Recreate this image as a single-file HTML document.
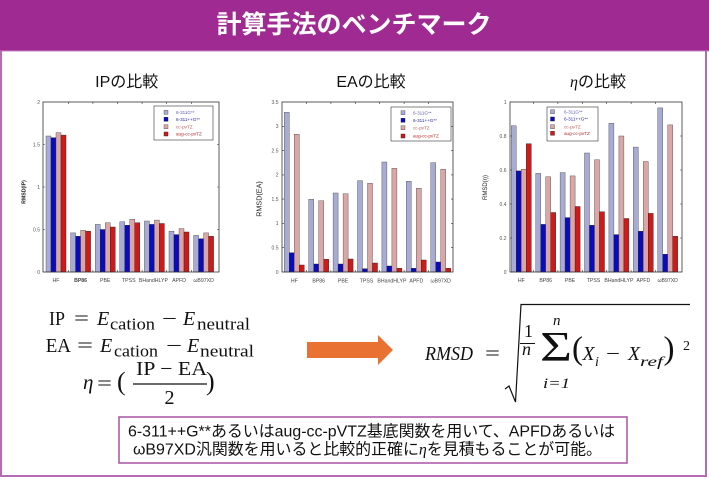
<!DOCTYPE html>
<html><head><meta charset="utf-8">
<style>
html,body{margin:0;padding:0;background:#fff;}
svg{display:block;}
.sans{font-family:"Liberation Sans","Noto Sans CJK JP",sans-serif;}
.jp{font-family:"Liberation Sans","Noto Sans CJK JP",sans-serif;}
.serif{font-family:"Liberation Serif","DejaVu Serif",serif;}
.a{fill:#A8ACD5;stroke:#444;stroke-width:0.4;}
.b{fill:#0B0BBE;stroke:#222;stroke-width:0.4;}
.c{fill:#DBA6A6;stroke:#444;stroke-width:0.4;}
.d{fill:#D01A1A;stroke:#222;stroke-width:0.4;}
.tk{font-family:"Liberation Sans",sans-serif;font-size:5px;fill:#555;}
.xl{font-family:"Liberation Sans",sans-serif;font-size:5.2px;fill:#444;text-anchor:middle;}
.lg{font-family:"Liberation Sans",sans-serif;font-size:4.6px;}
</style></head>
<body>
<svg width="709" height="479" viewBox="0 0 709 479" xmlns="http://www.w3.org/2000/svg">
<rect width="709" height="479" fill="#fff"/>
<!-- title bar -->
<rect x="0" y="0" width="709" height="51" fill="#9E2A92"/>
<line x1="0" y1="51" x2="709" y2="51" stroke="#C685C2" stroke-width="1"/>
<text class="jp" x="354" y="33" font-size="25" font-weight="bold" fill="#fff" text-anchor="middle">計算手法のベンチマーク</text>
<!-- outer frame -->
<path d="M1,51 V476 H706 V51" stroke="#B46CB2" stroke-width="2" fill="none"/>

<!-- chart titles -->
<text class="jp" x="126.7" y="87" font-size="16" text-anchor="middle" fill="#111">IPの比較</text>
<text class="jp" x="371" y="87" font-size="16" text-anchor="middle" fill="#111">EAの比較</text>
<text class="jp" x="598" y="87" font-size="16" text-anchor="middle" fill="#111"><tspan font-family="Liberation Serif,serif" font-style="italic">η</tspan>の比較</text>

<!-- ===== Chart 1 ===== -->
<g>
<rect x="46" y="136" width="5" height="136" class="a"/>
<rect x="51" y="137.7" width="5" height="134.3" class="b"/>
<rect x="56" y="132.6" width="5" height="139.4" class="c"/>
<rect x="61" y="135.1" width="5" height="136.9" class="d"/>
<rect x="70.6" y="232.9" width="5" height="39.1" class="a"/>
<rect x="75.6" y="236.3" width="5" height="35.7" class="b"/>
<rect x="80.6" y="230.3" width="5" height="41.7" class="c"/>
<rect x="85.6" y="231.2" width="5" height="40.8" class="d"/>
<rect x="95.2" y="224.4" width="5" height="47.6" class="a"/>
<rect x="100.2" y="229.5" width="5" height="42.5" class="b"/>
<rect x="105.2" y="222.7" width="5" height="49.3" class="c"/>
<rect x="110.2" y="227" width="5" height="45" class="d"/>
<rect x="119.8" y="221.8" width="5" height="50.2" class="a"/>
<rect x="124.8" y="225.2" width="5" height="46.8" class="b"/>
<rect x="129.8" y="219.3" width="5" height="52.7" class="c"/>
<rect x="134.8" y="222.7" width="5" height="49.3" class="d"/>
<rect x="144.4" y="221" width="5" height="51" class="a"/>
<rect x="149.4" y="224.4" width="5" height="47.6" class="b"/>
<rect x="154.4" y="220.1" width="5" height="51.9" class="c"/>
<rect x="159.4" y="223.5" width="5" height="48.5" class="d"/>
<rect x="169" y="231.2" width="5" height="40.8" class="a"/>
<rect x="174" y="234.6" width="5" height="37.4" class="b"/>
<rect x="179" y="228.6" width="5" height="43.4" class="c"/>
<rect x="184" y="232" width="5" height="40" class="d"/>
<rect x="193.6" y="235.4" width="5" height="36.6" class="a"/>
<rect x="198.6" y="238.8" width="5" height="33.2" class="b"/>
<rect x="203.6" y="232.9" width="5" height="39.1" class="c"/>
<rect x="208.6" y="236.3" width="5" height="35.7" class="d"/>
<rect x="43" y="102" width="176" height="170" fill="none" stroke="#333" stroke-width="0.8"/>
<path d="M43,229.5h2M43,187h2M43,144.5h2M217,229.5h2M217,187h2M217,144.5h2M68.3,102v2M92.9,102v2M117.5,102v2M142.1,102v2M166.7,102v2M191.3,102v2M68.3,270v2M92.9,270v2M117.5,270v2M142.1,270v2M166.7,270v2M191.3,270v2" stroke="#333" stroke-width="0.6"/>
<text class="tk" x="40" y="273.8" text-anchor="end">0</text>
<text class="tk" x="40" y="231.3" text-anchor="end">0.5</text>
<text class="tk" x="40" y="188.8" text-anchor="end">1</text>
<text class="tk" x="40" y="146.3" text-anchor="end">1.5</text>
<text class="tk" x="40" y="103.8" text-anchor="end">2</text>
<text class="xl" x="56" y="282">HF</text>
<text class="xl" x="80.6" y="282" font-weight="bold">BP86</text>
<text class="xl" x="105.2" y="282">PBE</text>
<text class="xl" x="128.8" y="282">TPSS</text>
<text class="xl" x="153.4" y="282">BHandHLYP</text>
<text class="xl" x="179" y="282">APFD</text>
<text class="xl" x="203.6" y="282">ωB97XD</text>
<text x="25.5" y="192" font-family="Liberation Sans,sans-serif" font-size="5.2" font-weight="bold" fill="#222" text-anchor="middle" transform="rotate(-90 25.5 192)">RMSD(IP)</text>
<rect x="154" y="106" width="59" height="34" fill="#fff" stroke="#333" stroke-width="0.6"/>
<rect x="164" y="110.3" width="4" height="4" class="a"/>
<rect x="164" y="117.3" width="4" height="4" class="b"/>
<rect x="164" y="124.7" width="4" height="4" class="c"/>
<rect x="164" y="132" width="4" height="4" class="d"/>
<text class="lg" x="176" y="114" fill="#5A5AB0">6-311G**</text>
<text class="lg" x="176" y="121" fill="#2525A5">6-311++G**</text>
<text class="lg" x="176" y="128.4" fill="#C06060">cc-pvTZ</text>
<text class="lg" x="176" y="135.7" fill="#C02525">aug-cc-pvTZ</text>
</g>

<!-- ===== Chart 2 ===== -->
<g>
<rect x="284.3" y="112.3" width="5" height="159.7" class="a"/>
<rect x="289.3" y="252.7" width="5" height="19.3" class="b"/>
<rect x="294.3" y="134.3" width="5" height="137.7" class="c"/>
<rect x="299.3" y="265" width="5" height="7" class="d"/>
<rect x="308.7" y="199.3" width="5" height="72.7" class="a"/>
<rect x="313.7" y="264" width="5" height="8" class="b"/>
<rect x="318.7" y="200.7" width="5" height="71.3" class="c"/>
<rect x="323.7" y="259.3" width="5" height="12.7" class="d"/>
<rect x="333.1" y="193" width="5" height="79" class="a"/>
<rect x="338.1" y="264" width="5" height="8" class="b"/>
<rect x="343.1" y="193.7" width="5" height="78.3" class="c"/>
<rect x="348.1" y="259" width="5" height="13" class="d"/>
<rect x="357.5" y="180.7" width="5" height="91.3" class="a"/>
<rect x="362.5" y="268.7" width="5" height="3.3" class="b"/>
<rect x="367.5" y="183.3" width="5" height="88.7" class="c"/>
<rect x="372.5" y="263" width="5" height="9" class="d"/>
<rect x="381.9" y="162" width="5" height="110" class="a"/>
<rect x="386.9" y="266" width="5" height="6" class="b"/>
<rect x="391.9" y="168.3" width="5" height="103.7" class="c"/>
<rect x="396.9" y="268.3" width="5" height="3.7" class="d"/>
<rect x="406.3" y="181.3" width="5" height="90.7" class="a"/>
<rect x="411.3" y="268.3" width="5" height="3.7" class="b"/>
<rect x="416.3" y="188.3" width="5" height="83.7" class="c"/>
<rect x="421.3" y="260" width="5" height="12" class="d"/>
<rect x="430.7" y="162.7" width="5" height="109.3" class="a"/>
<rect x="435.7" y="262" width="5" height="10" class="b"/>
<rect x="440.7" y="169.3" width="5" height="102.7" class="c"/>
<rect x="445.7" y="268.3" width="5" height="3.7" class="d"/>
<rect x="282" y="102" width="171" height="170" fill="none" stroke="#333" stroke-width="0.8"/>
<path d="M282,247.7h2M282,223.4h2M282,199.1h2M282,174.9h2M282,150.6h2M282,126.3h2M451,247.7h2M451,223.4h2M451,199.1h2M451,174.9h2M451,150.6h2M451,126.3h2M306.5,102v2M330.9,102v2M355.3,102v2M379.7,102v2M404.1,102v2M428.5,102v2M306.5,270v2M330.9,270v2M355.3,270v2M379.7,270v2M404.1,270v2M428.5,270v2" stroke="#333" stroke-width="0.6"/>
<text class="tk" x="278.5" y="273.8" text-anchor="end">0</text>
<text class="tk" x="278.5" y="249.5" text-anchor="end">0.5</text>
<text class="tk" x="278.5" y="225.2" text-anchor="end">1</text>
<text class="tk" x="278.5" y="200.9" text-anchor="end">1.5</text>
<text class="tk" x="278.5" y="176.7" text-anchor="end">2</text>
<text class="tk" x="278.5" y="152.4" text-anchor="end">2.5</text>
<text class="tk" x="278.5" y="128.1" text-anchor="end">3</text>
<text class="tk" x="278.5" y="103.8" text-anchor="end">3.5</text>
<text class="xl" x="294.3" y="282.5">HF</text>
<text class="xl" x="318.7" y="282.5">BP86</text>
<text class="xl" x="343.1" y="282.5">PBE</text>
<text class="xl" x="366.5" y="282.5">TPSS</text>
<text class="xl" x="391.9" y="282.5">BHandHLYP</text>
<text class="xl" x="416.3" y="282.5">APFD</text>
<text class="xl" x="440.7" y="282.5">ωB97XD</text>
<text x="261.5" y="199" font-family="Liberation Sans,sans-serif" font-size="7.2" fill="#222" text-anchor="middle" transform="rotate(-90 261.5 199)">RMSD(EA)</text>
<rect x="391" y="107" width="60" height="34" fill="#fff" stroke="#333" stroke-width="0.6"/>
<rect x="401" y="110.7" width="4" height="4" class="a"/>
<rect x="401" y="118.3" width="4" height="4" class="b"/>
<rect x="401" y="125.7" width="4" height="4" class="c"/>
<rect x="401" y="134" width="4" height="4" class="d"/>
<text class="lg" x="413" y="114.4" fill="#5A5AB0">6-311G**</text>
<text class="lg" x="413" y="122" fill="#2525A5">6-311++G**</text>
<text class="lg" x="413" y="129.4" fill="#C06060">cc-pvTZ</text>
<text class="lg" x="413" y="137.7" fill="#C02525">aug-cc-pvTZ</text>
</g>

<!-- ===== Chart 3 ===== -->
<g>
<rect x="511.3" y="125.8" width="5" height="146.2" class="a"/>
<rect x="516.3" y="170.9" width="5" height="101.1" class="b"/>
<rect x="521.3" y="169.2" width="5" height="102.8" class="c"/>
<rect x="526.3" y="143.7" width="5" height="128.3" class="d"/>
<rect x="535.7" y="173.4" width="5" height="98.6" class="a"/>
<rect x="540.7" y="224.4" width="5" height="47.6" class="b"/>
<rect x="545.7" y="176.8" width="5" height="95.2" class="c"/>
<rect x="550.7" y="212.5" width="5" height="59.5" class="d"/>
<rect x="560.1" y="172.6" width="5" height="99.4" class="a"/>
<rect x="565.1" y="217.6" width="5" height="54.4" class="b"/>
<rect x="570.1" y="175.9" width="5" height="96.1" class="c"/>
<rect x="575.1" y="206.5" width="5" height="65.5" class="d"/>
<rect x="584.5" y="153" width="5" height="119" class="a"/>
<rect x="589.5" y="225.3" width="5" height="46.7" class="b"/>
<rect x="594.5" y="159.8" width="5" height="112.2" class="c"/>
<rect x="599.5" y="211.7" width="5" height="60.3" class="d"/>
<rect x="608.9" y="123.3" width="5" height="148.7" class="a"/>
<rect x="613.9" y="234.6" width="5" height="37.4" class="b"/>
<rect x="618.9" y="136" width="5" height="136" class="c"/>
<rect x="623.9" y="218.5" width="5" height="53.5" class="d"/>
<rect x="633.3" y="147.1" width="5" height="124.9" class="a"/>
<rect x="638.3" y="231.2" width="5" height="40.8" class="b"/>
<rect x="643.3" y="161.5" width="5" height="110.5" class="c"/>
<rect x="648.3" y="213.4" width="5" height="58.6" class="d"/>
<rect x="657.7" y="107.9" width="5" height="164.1" class="a"/>
<rect x="662.7" y="254.2" width="5" height="17.8" class="b"/>
<rect x="667.7" y="124.9" width="5" height="147.1" class="c"/>
<rect x="672.7" y="236.3" width="5" height="35.7" class="d"/>
<rect x="510" y="102" width="172" height="170" fill="none" stroke="#333" stroke-width="0.8"/>
<path d="M510,238h2M510,204h2M510,170h2M510,136h2M680,238h2M680,204h2M680,170h2M680,136h2M533.5,102v2M557.9,102v2M582.3,102v2M606.7,102v2M631.1,102v2M655.5,102v2M533.5,270v2M557.9,270v2M582.3,270v2M606.7,270v2M631.1,270v2M655.5,270v2" stroke="#333" stroke-width="0.6"/>
<text class="tk" x="506.5" y="273.8" text-anchor="end">0</text>
<text class="tk" x="506.5" y="239.8" text-anchor="end">0.2</text>
<text class="tk" x="506.5" y="205.8" text-anchor="end">0.4</text>
<text class="tk" x="506.5" y="171.8" text-anchor="end">0.6</text>
<text class="tk" x="506.5" y="137.8" text-anchor="end">0.8</text>
<text class="tk" x="506.5" y="103.8" text-anchor="end">1</text>
<text class="xl" x="521.3" y="282">HF</text>
<text class="xl" x="545.7" y="282">BP86</text>
<text class="xl" x="570.1" y="282">PBE</text>
<text class="xl" x="593.5" y="282">TPSS</text>
<text class="xl" x="618.9" y="282">BHandHLYP</text>
<text class="xl" x="643.3" y="282">APFD</text>
<text class="xl" x="667.7" y="282">ωB97XD</text>
<text x="487" y="187.5" font-family="Liberation Sans,sans-serif" font-size="6" fill="#222" text-anchor="middle" transform="rotate(-90 487 187.5)">RMSD(<tspan font-style="italic">η</tspan>)</text>
<rect x="547" y="107" width="51" height="34" fill="#fff" stroke="#333" stroke-width="0.6"/>
<rect x="550.5" y="109.7" width="4" height="4" class="a"/>
<rect x="550.5" y="117" width="4" height="4" class="b"/>
<rect x="550.5" y="124.7" width="4" height="4" class="c"/>
<rect x="550.5" y="131.3" width="4" height="4" class="d"/>
<text class="lg" x="564" y="113.4" fill="#5A5AB0">6-311G**</text>
<text class="lg" x="564" y="120.7" fill="#2525A5">6-311++G**</text>
<text class="lg" x="564" y="128.4" fill="#C06060">cc-pvTZ</text>
<text class="lg" x="564" y="135" fill="#C02525">aug-cc-pvTZ</text>
</g>

<!-- ===== Equations left ===== -->
<g class="serif" fill="#111">
<text x="49" y="325" font-size="20" textLength="16" lengthAdjust="spacingAndGlyphs">IP</text>
<text x="74" y="325" font-size="20" textLength="15" lengthAdjust="spacingAndGlyphs">=</text>
<text x="97" y="325" font-size="20" font-style="italic">E</text>
<text x="110" y="329.5" font-size="17" textLength="45" lengthAdjust="spacingAndGlyphs">cation</text>
<text x="162" y="325" font-size="20" textLength="15" lengthAdjust="spacingAndGlyphs">−</text>
<text x="183" y="325" font-size="20" font-style="italic">E</text>
<text x="197" y="329.5" font-size="17" textLength="53" lengthAdjust="spacingAndGlyphs">neutral</text>

<text x="45.7" y="352" font-size="20" textLength="25.3" lengthAdjust="spacingAndGlyphs">EA</text>
<text x="77" y="352" font-size="20" textLength="16" lengthAdjust="spacingAndGlyphs">=</text>
<text x="100" y="352" font-size="20" font-style="italic">E</text>
<text x="114" y="356.5" font-size="17" textLength="44" lengthAdjust="spacingAndGlyphs">cation</text>
<text x="166" y="352" font-size="20" textLength="16" lengthAdjust="spacingAndGlyphs">−</text>
<text x="187" y="352" font-size="20" font-style="italic">E</text>
<text x="200" y="356.5" font-size="17" textLength="54" lengthAdjust="spacingAndGlyphs">neutral</text>

<text x="83" y="389" font-size="21" font-style="italic">η</text>
<text x="97" y="390" font-size="20" textLength="15" lengthAdjust="spacingAndGlyphs">=</text>
<text x="117" y="390" font-size="26">(</text>
<text x="136" y="375" font-size="20" textLength="71" lengthAdjust="spacingAndGlyphs">IP − EA</text>
<line x1="133" y1="384" x2="207" y2="384" stroke="#111" stroke-width="1.2"/>
<text x="164.5" y="404" font-size="20">2</text>
<text x="206" y="390" font-size="26">)</text>
</g>

<!-- arrow -->
<polygon points="307,342 378,342 378,335 393,350 378,365 378,358 307,358" fill="#E97132"/>

<!-- ===== RMSD formula ===== -->
<g class="serif" fill="#111">
<text x="425" y="360" font-size="20" font-style="italic" textLength="48" lengthAdjust="spacingAndGlyphs">RMSD</text>
<text x="485" y="360" font-size="20" textLength="15" lengthAdjust="spacingAndGlyphs">=</text>
<path d="M505,389 L509,386 L515.5,402 L521,304.5 L690,304.5" fill="none" stroke="#111" stroke-width="1.2"/>
<text x="524" y="337" font-size="18">1</text>
<line x1="520" y1="343.5" x2="535" y2="343.5" stroke="#111" stroke-width="1"/>
<text x="522" y="355" font-size="18" font-style="italic">n</text>
<text x="553" y="325" font-size="15" font-style="italic">n</text>
<text x="540" y="361" font-size="42" textLength="32" lengthAdjust="spacingAndGlyphs">Σ</text>
<text x="543" y="388" font-size="15" font-style="italic" textLength="27" lengthAdjust="spacingAndGlyphs">i=1</text>
<text x="572" y="359" font-size="33">(</text>
<text x="582.5" y="360" font-size="20" font-style="italic" textLength="12" lengthAdjust="spacingAndGlyphs">X</text>
<text x="595" y="366" font-size="14" font-style="italic">i</text>
<text x="606" y="360" font-size="20" textLength="14" lengthAdjust="spacingAndGlyphs">−</text>
<text x="628" y="360" font-size="20" font-style="italic" textLength="12" lengthAdjust="spacingAndGlyphs">X</text>
<text x="640" y="366" font-size="14" font-style="italic" textLength="23" lengthAdjust="spacingAndGlyphs">ref</text>
<text x="663.5" y="359" font-size="33">)</text>
<text x="683" y="350" font-size="14">2</text>
</g>

<!-- ===== bottom box ===== -->
<rect x="119" y="417" width="508" height="46" fill="#fff" stroke="#A952A7" stroke-width="1.5"/>
<text class="jp" x="128" y="436.5" font-size="16" fill="#111" textLength="487" lengthAdjust="spacingAndGlyphs">6-311++G**あるいはaug-cc-pVTZ基底関数を用いて、APFDあるいは</text>
<text class="jp" x="133" y="454.5" font-size="16" fill="#111" textLength="469" lengthAdjust="spacingAndGlyphs">ωB97XD汎関数を用いると比較的正確に<tspan font-family="Liberation Serif,serif" font-style="italic">η</tspan>を見積もることが可能。</text>
</svg>
</body></html>
